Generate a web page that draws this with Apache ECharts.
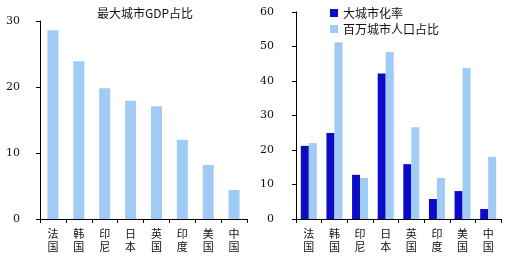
<!DOCTYPE html>
<html><head><meta charset="utf-8">
<script src="https://cdn.jsdelivr.net/npm/echarts@6/dist/echarts.min.js"></script>
<style>html,body{margin:0;padding:0;background:#fff}#c{width:508px;height:257px}</style>
</head><body><div id="c"></div>
<script>
const categories = ['法国','韩国','印尼','日本','英国','印度','美国','中国'];
const gdpShare = [28.6, 23.9, 19.8, 17.9, 17.1, 12.0, 8.2, 4.4];
const bigCityRate = [21.2, 24.9, 12.8, 42.2, 15.9, 5.8, 8.1, 2.9];
const millionCityPop = [22.0, 51.2, 11.9, 48.4, 26.6, 11.9, 43.8, 18.0];
const leftTicks = [0, 10, 20, 30];
const rightTicks = [0, 10, 20, 30, 40, 50, 60];

const light = '#9fcbf5', dark = '#0c0cc8';
const CJK = '"Noto Sans CJK SC", sans-serif';
const NUM = '"DejaVu Serif", serif';
const chart = echarts.init(document.getElementById('c'));
function xAxis(idx){
  return {type:'category', gridIndex:idx, data:categories,
    axisLine:{lineStyle:{color:'#000',width:1}},
    axisTick:{show:true,length:4,lineStyle:{color:'#000'}},
    axisLabel:{interval:0,color:'#111',fontFamily:CJK,fontSize:11,lineHeight:13,margin:8,
      formatter:v=>v.split('').join('\n')}};
}
function yAxis(idx,max,margin){
  return {type:'value', gridIndex:idx, min:0, max:max, interval:10,
    splitLine:{show:false},
    axisLine:{show:true,lineStyle:{color:'#000',width:1}},
    axisTick:{show:true,length:4,lineStyle:{color:'#000'}},
    axisLabel:{color:'#111',fontFamily:NUM,fontSize:11,margin:margin}};
}
chart.setOption({
  animation:false,
  title:{text:'最大城市GDP占比',left:140,textAlign:'center',top:2,
    textStyle:{fontFamily:CJK,fontSize:12,fontWeight:'normal',color:'#111'}},
  legend:{left:325,top:2,orient:'vertical',itemWidth:8,itemHeight:8,itemGap:4,icon:'rect',
    textStyle:{fontFamily:CJK,fontSize:12,color:'#111'},
    data:['大城市化率','百万城市人口占比']},
  grid:[{left:40,right:261,top:21,bottom:38},{left:296,right:7,top:12,bottom:38}],
  xAxis:[xAxis(0),xAxis(1)],
  yAxis:[yAxis(0,30,20),yAxis(1,60,22)],
  series:[
    {type:'bar',name:'最大城市GDP占比',xAxisIndex:0,yAxisIndex:0,data:gdpShare,barWidth:11,itemStyle:{color:light}},
    {type:'bar',name:'大城市化率',xAxisIndex:1,yAxisIndex:1,data:bigCityRate,barWidth:8,barGap:'0%',itemStyle:{color:dark}},
    {type:'bar',name:'百万城市人口占比',xAxisIndex:1,yAxisIndex:1,data:millionCityPop,barWidth:8,barGap:'0%',itemStyle:{color:light}}
  ]
});
</script></body></html>
